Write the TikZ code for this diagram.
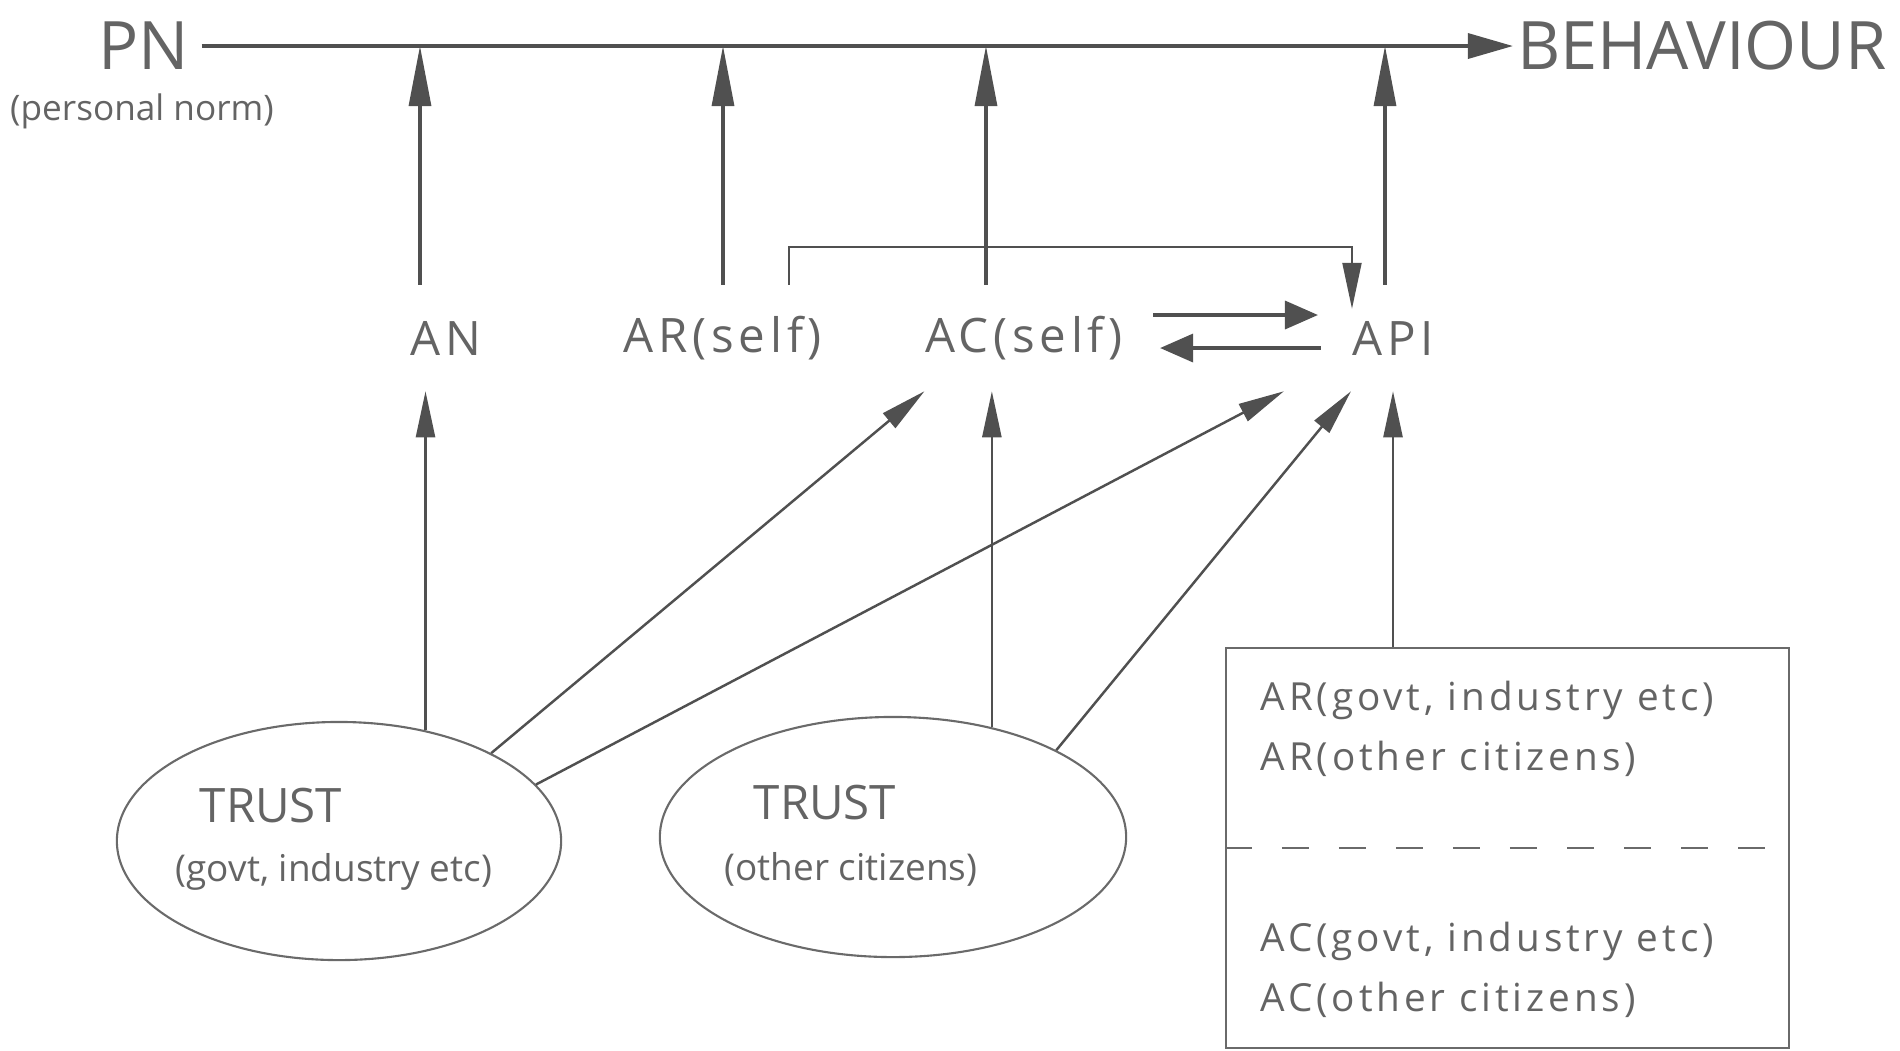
\documentclass[tikz,border=0pt]{standalone}
\usepackage{fontspec}
\setmainfont{Open Sans}
\newfontfamily\widefont[LetterSpace=10]{Open Sans}
\usetikzlibrary{arrows.meta, positioning, shapes.geometric}
\definecolor{inkgray}{RGB}{100,100,100}
\definecolor{linegray}{RGB}{80,80,80}

\begin{document}
\begin{tikzpicture}[x=0.01cm, y=-0.01cm,
    bigword/.style={text=inkgray, font=\fontsize{19}{22}\selectfont},
    smallword/.style={text=inkgray, font=\fontsize{10}{12}\selectfont},
    rowword/.style={text=inkgray, font=\widefont\fontsize{13.5}{16}\selectfont,
      minimum height=1.05cm, inner sep=0pt},
    trustword/.style={text=inkgray, font=\fontsize{13.5}{16}\selectfont},
    listword/.style={text=inkgray, font=\widefont\fontsize{11}{17}\selectfont,
      align=left, anchor=west, inner sep=0pt},
    trustell/.style={ellipse, draw=linegray!85, line width=0.6pt, inner sep=0pt},
    mainarrow/.style={-{Triangle[length=4.5mm, width=2.5mm]}, line width=1pt, linegray},
    uparrow/.style={-{Triangle[length=6mm, width=2.2mm]}, line width=0.9pt, linegray},
    swaparrow/.style={-{Triangle[length=3.3mm, width=2.8mm]}, line width=1pt, linegray},
    thinarrow/.style={-{Triangle[length=4.6mm, width=1.9mm]}, line width=0.7pt, linegray}]
    \useasboundingbox (0,0) rectangle (1900,1050);
    \node[bigword] (pn) at (144,46) {PN};
    \node[bigword, inner sep=1pt] (beh) at (1702,46) {BEHAVIOUR};
    \node[smallword] (pnsub) at (142,111) {(personal norm)};
    \node[rowword] (an) at (446,338) {AN};
    \node[rowword] (ar) at (723,338) {AR(self)};
    \node[rowword] (ac) at (1024,338) {AC(self)};
    \node[rowword] (api) at (1393,338) {API};
    \node[trustell, minimum width=4.44cm, minimum height=2.38cm] (trustg) at (339,841) {};
    \node[trustword] (trustgname) at (271,806) {TRUST};
    \node[smallword, font=\fontsize{10.5}{12}\selectfont] (trustgsub) at (334,872) {(govt, industry etc)};
    \node[trustell, minimum width=4.66cm, minimum height=2.40cm] (trusto) at (893,837) {};
    \node[trustword] (trustoname) at (825,803) {TRUST};
    \node[smallword, font=\fontsize{10.5}{12}\selectfont] (trustosub) at (851,869) {(other citizens)};
    \node[draw=linegray!85, line width=0.6pt, minimum width=5.63cm, minimum height=4.0cm] (sources) at (1507.5,848) {};
    \node[listword] (arlist) at (1260,729) {AR(govt, industry etc)\\AR(other citizens)};
    \node[listword] (aclist) at (1260,970) {AC(govt, industry etc)\\AC(other citizens)};
    \draw[linegray!85, line width=0.6pt, dash pattern=on 0.27cm off 0.3cm] (sources.west) -- (sources.east);
    \draw[mainarrow] (pn.east) -- (beh.west);
    \coordinate (anfoot) at ([xshift=-0.26cm]an.north);
    \coordinate (acfoot) at ([xshift=-0.38cm]ac.north);
    \coordinate (apifoot) at ([xshift=-0.08cm]api.north);
    \draw[uparrow] (anfoot) -- (anfoot |- pn);
    \draw[uparrow] (ar.north) -- (ar.north |- pn);
    \draw[uparrow] (acfoot) -- (acfoot |- pn);
    \draw[uparrow] (apifoot) -- (apifoot |- pn);
    \coordinate (apiin) at ([xshift=-0.41cm, yshift=-0.24cm]api.north);
    \draw[thinarrow, line width=0.6pt] ([xshift=0.66cm]ar.north) -- ++(0,-38) -| (apiin);
    \draw[swaparrow] ([xshift=1.29cm, yshift=0.23cm]ac.center) -- ([xshift=-0.75cm, yshift=0.23cm]api.center);
    \draw[swaparrow] ([xshift=-0.72cm, yshift=-0.1cm]api.center) -- ([xshift=1.36cm, yshift=-0.1cm]ac.center);
    \draw[thinarrow] (trustg.52) -- (trustg.52 |- an.south);
    \draw[thinarrow] (trustg.30) -- (ac.south west);
    \draw[thinarrow] (trustg.16) -- ([xshift=-1.09cm]api.south);
    \draw[thinarrow] (trusto.48) -- (trusto.48 |- ac.south);
    \draw[thinarrow] (trusto.28) -- ([xshift=-0.42cm]api.south);
    \draw[thinarrow] (sources.north -| api.south) -- (api.south);
  \end{tikzpicture}
\end{document}
